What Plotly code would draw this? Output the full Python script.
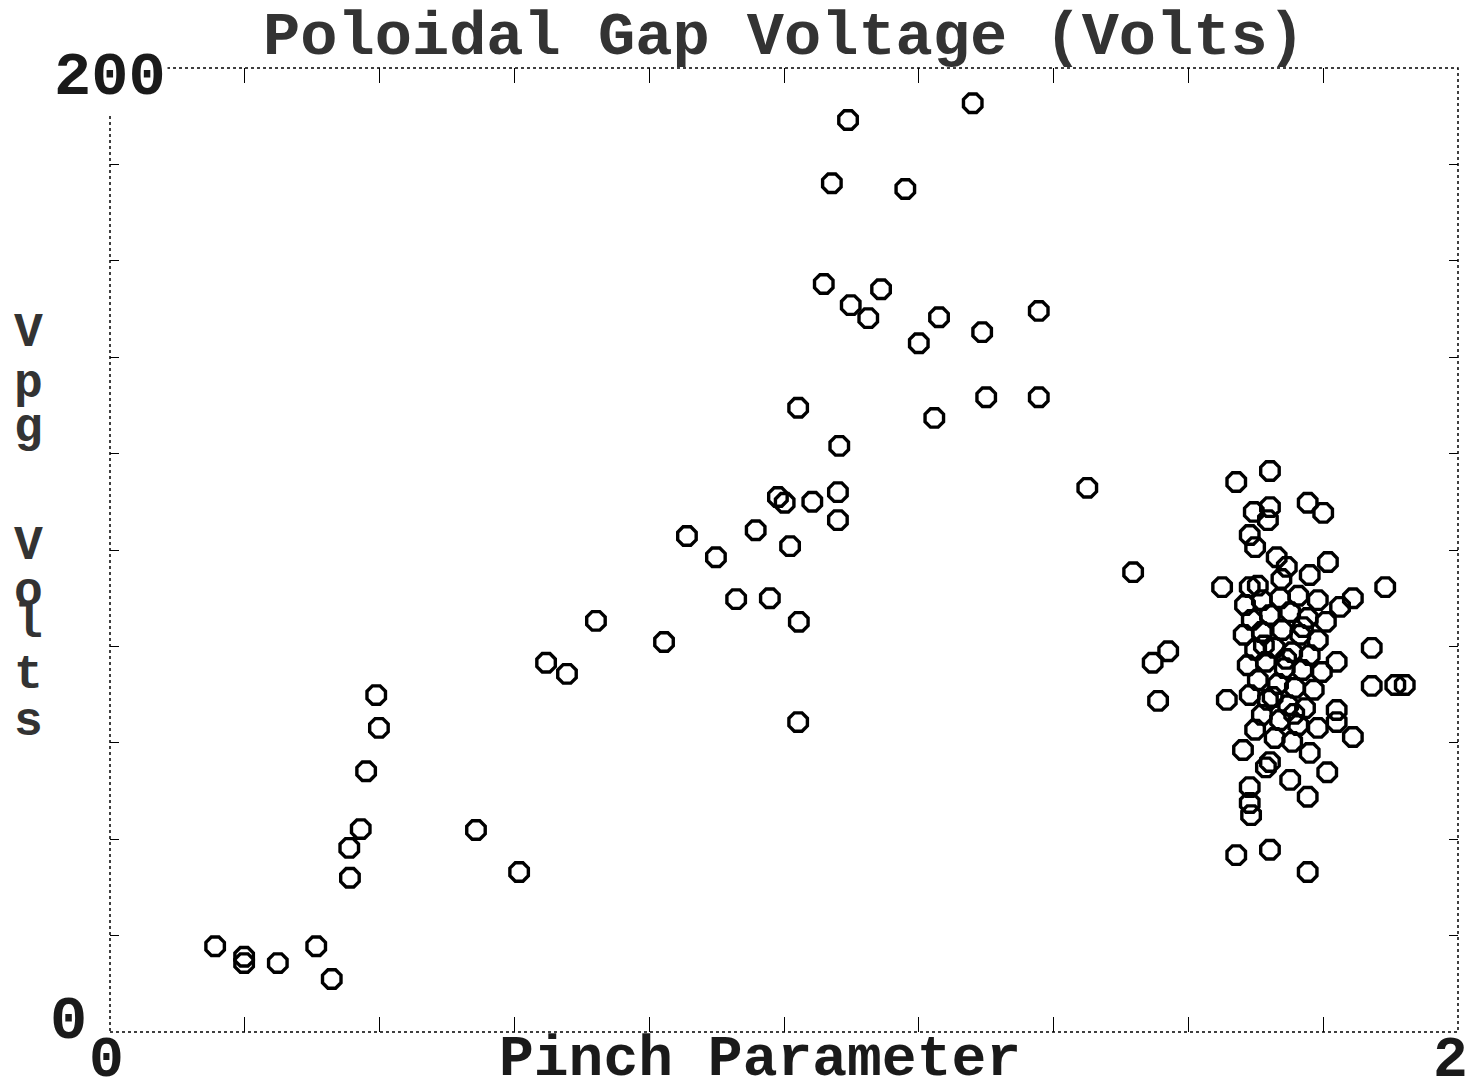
import plotly.graph_objects as go

# Pinch parameter (x) and poloidal gap voltage in volts (y)
pinch = [0.156, 0.199, 0.199, 0.249, 0.306, 0.329, 0.356, 0.355, 0.372, 0.380, 0.399, 0.395,
         0.543, 0.607, 0.647, 0.678, 0.721, 0.822, 0.856, 0.899, 0.929, 0.958, 0.979, 1.009,
         1.022, 1.021, 0.991, 1.001, 1.042, 1.080, 1.080, 1.021, 1.082, 1.059, 1.095, 1.071,
         1.180, 1.280, 1.099, 1.125, 1.144, 1.200, 1.230, 1.294, 1.378, 1.223, 1.300, 1.378,
         1.450, 1.518, 1.570, 1.547, 1.555]
vpg = [17.8, 15.6, 14.3, 14.3, 17.8, 11.0, 32.0, 38.2, 42.1, 54.1, 63.1, 69.9,
       41.9, 33.2, 76.6, 74.3, 85.3, 80.9, 102.9, 98.5, 89.8, 104.1, 90.0, 100.8,
       85.1, 64.3, 111.0, 109.8, 110.0, 112.0, 106.2, 129.5, 121.6, 155.2, 189.2, 176.1,
       174.9, 192.7, 150.8, 148.1, 154.1, 142.9, 148.3, 145.2, 149.6, 127.4, 131.7, 131.7,
       112.9, 95.4, 79.0, 76.6, 68.7]

# dense group of shots near pinch parameter 1.7-1.9
pinch_grp = [1.671, 1.721, 1.697, 1.721, 1.718, 1.777, 1.800, 1.691, 1.699, 1.731,
             1.746, 1.807, 1.780, 1.650, 1.691, 1.892, 1.844, 1.872, 1.872, 1.907,
             1.921, 1.657, 1.820, 1.820, 1.820, 1.844, 1.681, 1.721, 1.780, 1.806,
             1.777, 1.751, 1.691, 1.691, 1.693, 1.671, 1.721, 1.777, 1.715,
             1.684, 1.709, 1.736, 1.763, 1.792, 1.825, 1.694, 1.721, 1.751, 1.777,
             1.804, 1.682, 1.709, 1.739, 1.766, 1.792, 1.699, 1.728, 1.754, 1.780,
             1.688, 1.715, 1.743, 1.769, 1.798, 1.703, 1.733, 1.758, 1.786, 1.691,
             1.718, 1.748, 1.773, 1.709, 1.736, 1.763, 1.792, 1.699, 1.728, 1.754,
             1.712, 1.745, 1.770, 1.725, 1.757, 1.703, 1.738]
vpg_grp = [114.1, 116.4, 107.9, 108.9, 106.2, 109.8, 107.7, 103.1, 100.6, 98.5,
           96.5, 97.5, 94.8, 92.3, 92.3, 92.3, 90.0, 79.7, 71.8, 72.0,
           72.0, 68.9, 76.8, 66.8, 64.3, 61.2, 58.5, 56.0, 57.9, 53.9,
           48.8, 52.3, 50.8, 47.5, 45.0, 36.7, 37.8, 33.2, 54.9,
           88.6, 89.6, 90.0, 90.5, 89.6, 88.2, 85.5, 86.5, 87.1, 85.9,
           85.1, 82.4, 83.0, 83.4, 82.4, 81.3, 79.3, 79.7, 78.8, 78.2,
           76.1, 76.8, 75.5, 75.1, 74.7, 73.0, 72.2, 71.4, 71.0, 69.9,
           68.9, 67.8, 67.2, 65.8, 64.7, 63.7, 63.1, 62.7, 61.0, 60.2,
           80.2, 77.4, 84.0, 69.5, 66.0, 92.6, 94.0]

x_ticks = [0.2, 0.4, 0.6, 0.8, 1.0, 1.2, 1.4, 1.6, 1.8]
y_ticks = [20, 40, 60, 80, 100, 120, 140, 160, 180]
ylabel_chars = ["V", "p", "g", "V", "o", "l", "t", "s"]
ylabel_pos = [333, 384, 428, 546, 592, 624, 675, 722]

FONT = "Liberation Mono"

fig = go.Figure()
fig.add_trace(go.Scatter(
    x=pinch + pinch_grp, y=vpg + vpg_grp, mode="markers",
    marker=dict(symbol="octagon-open", size=20, color="black",
                line=dict(color="black", width=3.4)),
    showlegend=False))

fig.update_xaxes(range=[0, 2], showgrid=False, zeroline=False, showticklabels=False,
                 tickvals=x_ticks, ticks="inside", ticklen=15, tickwidth=1,
                 tickcolor="black", mirror="ticks", showline=False)
fig.update_yaxes(range=[0, 200], showgrid=False, zeroline=False, showticklabels=False,
                 tickvals=y_ticks, ticks="inside", ticklen=9, tickwidth=1,
                 tickcolor="black", mirror="ticks", showline=False)

# dotted frame round the plot
fig.add_shape(type="rect", xref="paper", yref="paper", x0=0, x1=1, y0=0, y1=1,
              line=dict(color="black", width=1.5, dash="dot"), layer="below")

big = dict(family=FONT, size=62, color="#1a1a1a", weight="bold")
low = dict(family=FONT, size=58, color="#1a1a1a", weight="bold")

# axis end labels
fig.add_annotation(x=0, y=200, text="200", showarrow=False, font=big, bgcolor="white",
                   yshift=-9, xanchor="center", yanchor="middle")
fig.add_annotation(x=0, y=0, text="0", showarrow=False, font=big,
                   xshift=-42, yshift=11, xanchor="center", yanchor="middle")
fig.add_annotation(x=0, y=0, text="0", showarrow=False, font=low,
                   xshift=-4, yshift=-28, xanchor="center", yanchor="middle")
fig.add_annotation(x=2, y=0, text="2", showarrow=False, font=low,
                   xshift=-8, yshift=-28, xanchor="center", yanchor="middle")

# x axis title
fig.add_annotation(xref="paper", yref="paper", x=0.482, y=-0.029, text="Pinch Parameter",
                   showarrow=False, font=low, xanchor="center", yanchor="middle")

# stacked y axis title
for ch, py in zip(ylabel_chars, ylabel_pos):
    fig.add_annotation(xref="paper", yref="paper", x=(28 - 110) / 1348, y=(1032 - py) / 964,
                       text=ch, showarrow=False, xanchor="center", yanchor="middle",
                       font=dict(family=FONT, size=48, color="#333333", weight="bold"))

fig.update_layout(
    width=1465, height=1071,
    margin=dict(l=102, r=15, t=60, b=47),
    paper_bgcolor="white", plot_bgcolor="white",
    title=dict(text="Poloidal Gap Voltage (Volts)", x=0.5, xref="paper",
               y=1 - 24 / 1071, yanchor="middle", xanchor="center",
               font=dict(family=FONT, size=62, color="#333333", weight="bold")),
)

fig.write_html("out.html")
